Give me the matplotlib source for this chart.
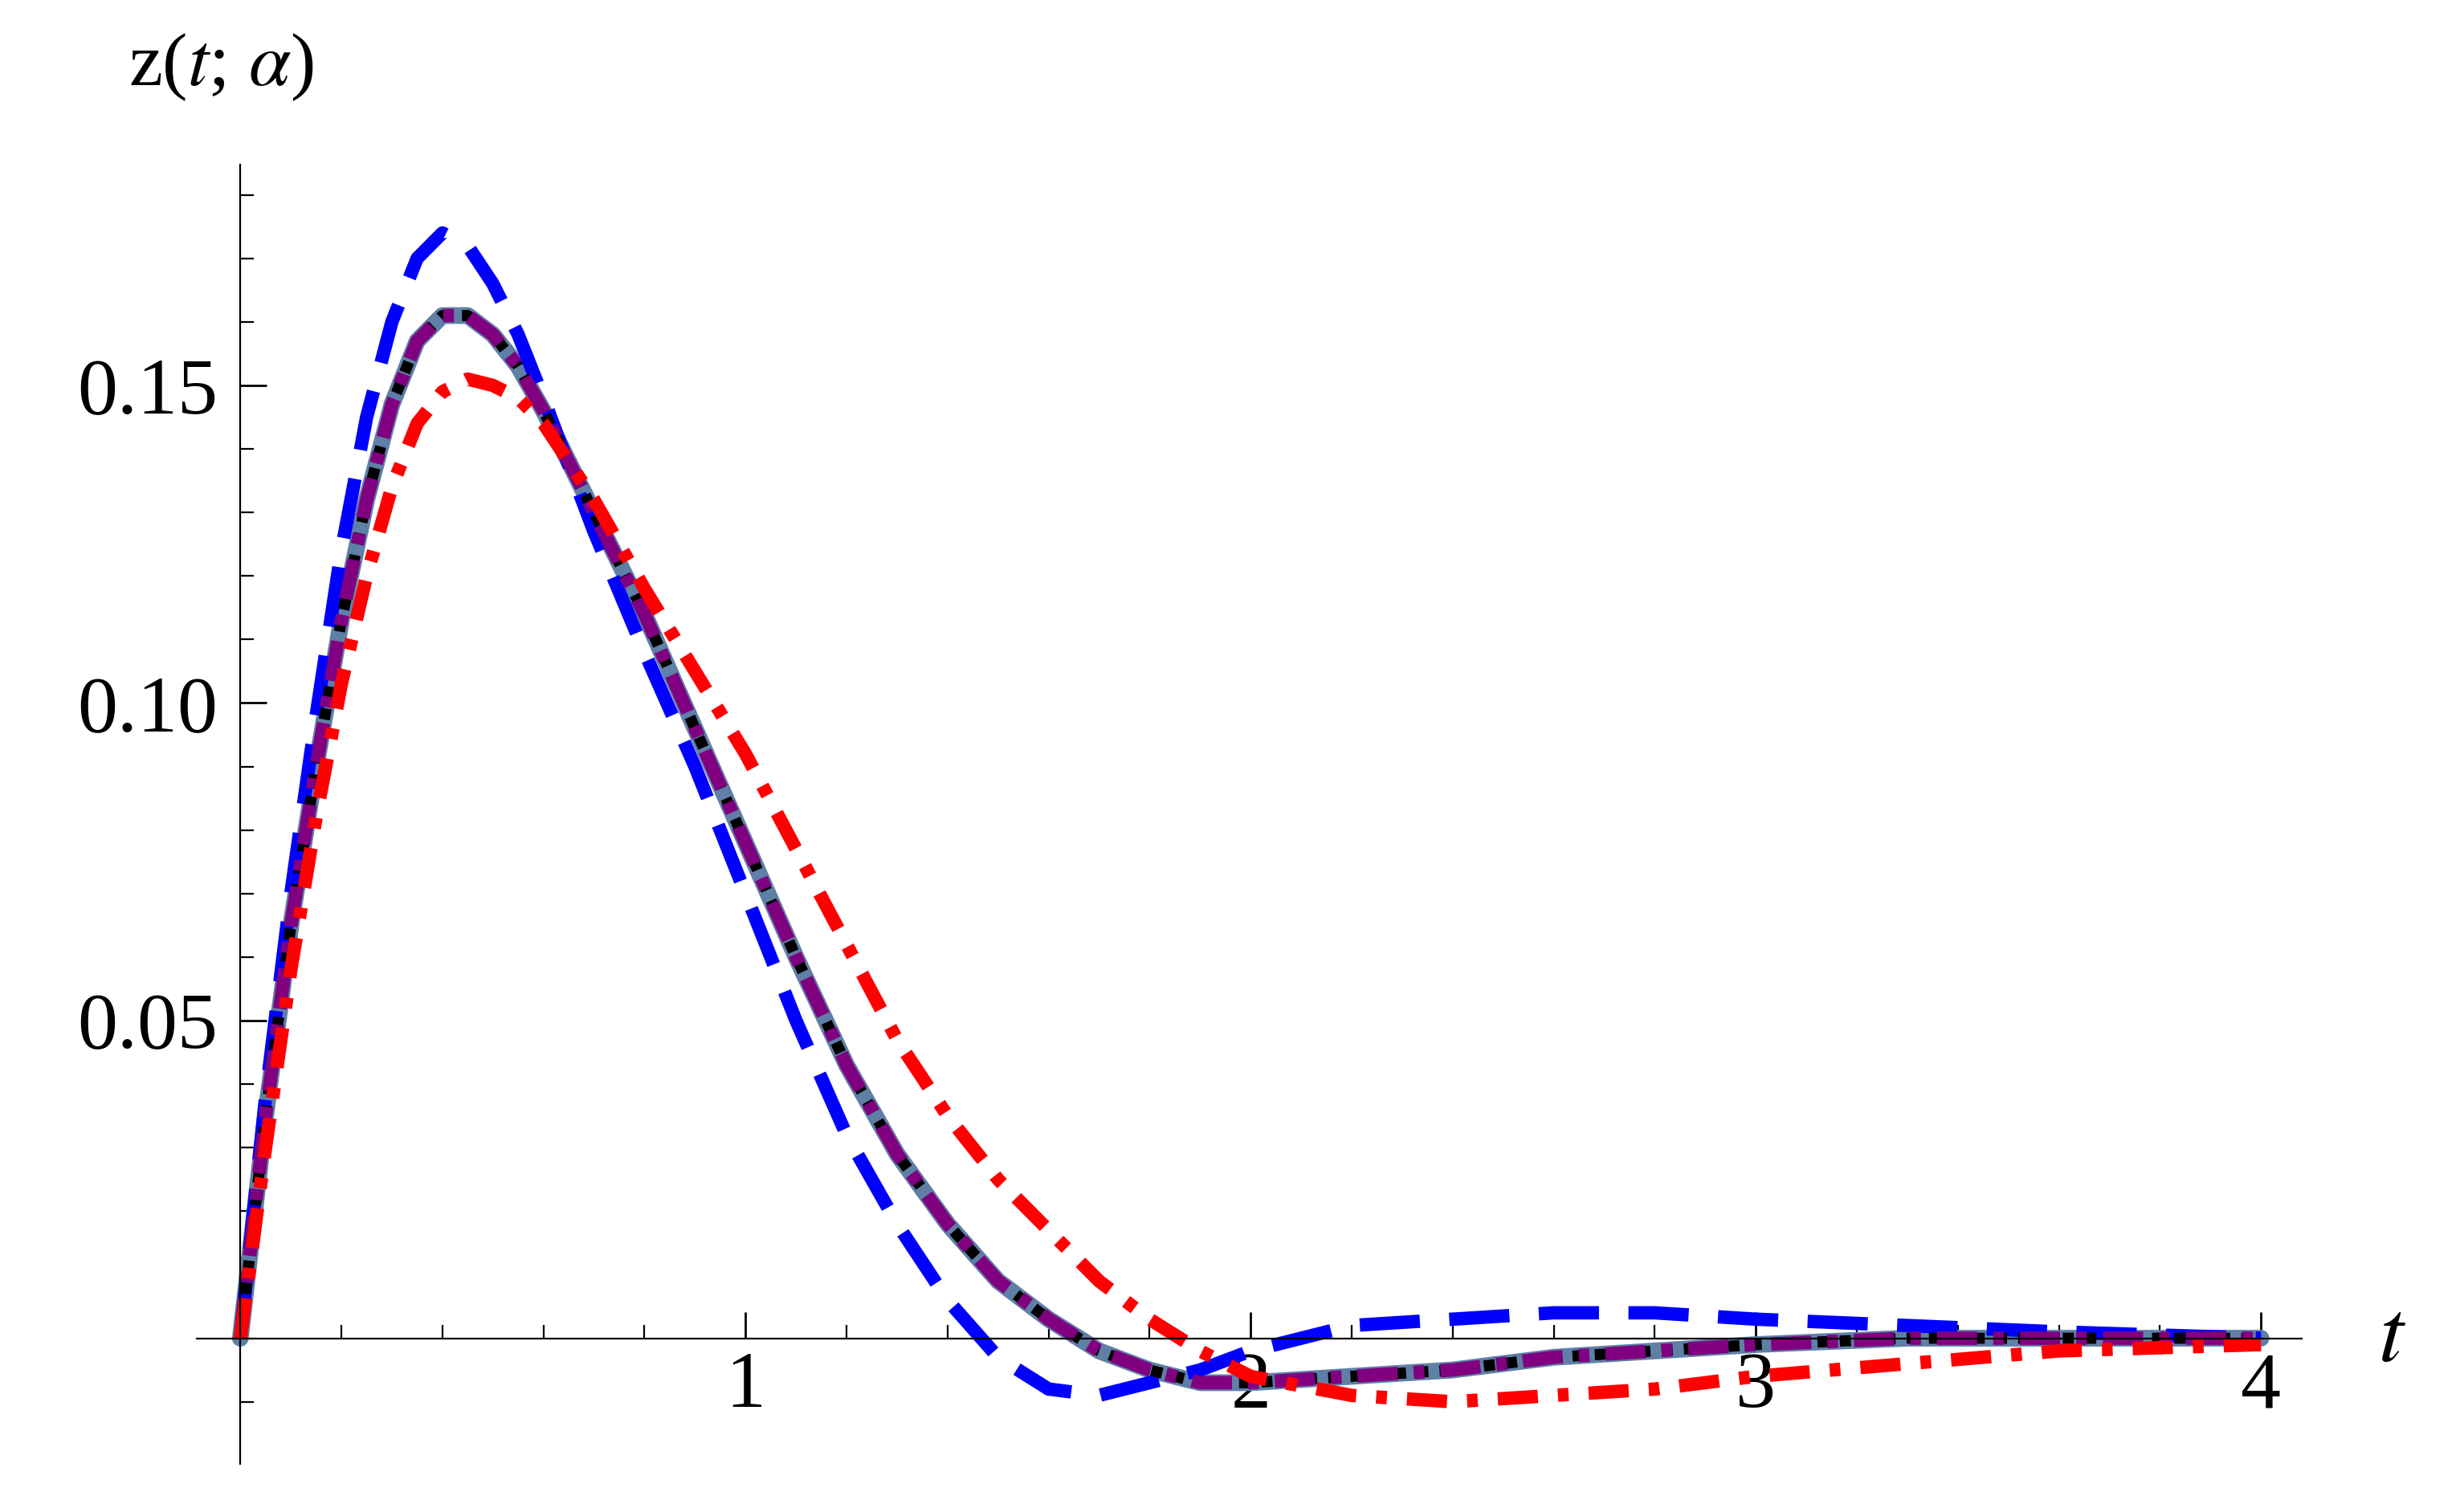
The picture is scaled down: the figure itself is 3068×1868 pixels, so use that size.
import matplotlib
matplotlib.use("Agg")
import matplotlib.pyplot as plt
from matplotlib.ticker import MultipleLocator, FixedLocator

t = [0, 0.05, 0.1, 0.15, 0.2, 0.25, 0.3, 0.35, 0.4, 0.45, 0.5, 0.55, 0.6, 0.7, 0.8, 0.9,
     1.0, 1.1, 1.2, 1.3, 1.4, 1.5, 1.6, 1.7, 1.8, 1.9, 2.0, 2.2, 2.4, 2.6, 2.8, 3.0, 3.3,
     3.6, 4.0]

z_blue = [0, 0.038, 0.07, 0.098, 0.124, 0.145, 0.16, 0.170, 0.174, 0.172, 0.166, 0.158,
          0.148, 0.127, 0.108, 0.090, 0.070, 0.050, 0.032, 0.018, 0.006, -0.003, -0.008,
          -0.009, -0.007, -0.005, -0.002, 0.002, 0.003, 0.004, 0.004, 0.003, 0.002, 0.001, 0.0]
z_exact = [0, 0.035, 0.065, 0.09, 0.113, 0.132, 0.147, 0.157, 0.161, 0.161, 0.158, 0.153,
           0.146, 0.130, 0.114, 0.096, 0.078, 0.060, 0.043, 0.029, 0.018, 0.009, 0.003,
           -0.002, -0.005, -0.007, -0.007, -0.006, -0.005, -0.003, -0.002, -0.001, 0.0,
           0.0, 0.0]
z_red = [0, 0.03, 0.058, 0.082, 0.103, 0.120, 0.134, 0.144, 0.149, 0.151, 0.150, 0.148,
         0.144, 0.132, 0.118, 0.105, 0.092, 0.077, 0.062, 0.047, 0.035, 0.025, 0.017, 0.009,
         0.003, -0.002, -0.006, -0.009, -0.010, -0.009, -0.008, -0.006, -0.004, -0.002, -0.001]

plt.rcParams["font.family"] = ["Liberation Serif", "DejaVu Serif"]
plt.rcParams["mathtext.fontset"] = "stix"

fig = plt.figure(figsize=(15.34, 9.34), dpi=200)
ax = fig.add_axes([0.0797, 0.024, 0.934 - 0.0797, 0.89 - 0.024])

lw = 6
ax.plot(t, z_exact, color="#5f7fa6", lw=lw + 1.5, solid_capstyle="round")
ax.plot(t, z_blue, color="#0000ff", lw=lw, dashes=(4.5, 2.2))
ax.plot(t, z_exact, color="black", lw=lw - 1, dashes=(1.0, 1.0))
ax.plot(t, z_exact, color="#800080", lw=lw, dashes=(3, 1.2, 0.8, 1.2))
ax.plot(t, z_red, color="#ff0000", lw=lw, dashes=(3, 1.5, 0.8, 1.5))

ax.set_xlim(-0.087, 4.08)
ax.set_ylim(-0.0198, 0.1847)
for s in ("top", "right"):
    ax.spines[s].set_visible(False)
ax.spines["left"].set_position(("data", 0))
ax.spines["bottom"].set_position(("data", 0))
ax.xaxis.set_major_locator(FixedLocator([1, 2, 3, 4]))
ax.xaxis.set_minor_locator(MultipleLocator(0.2))
ax.yaxis.set_major_locator(FixedLocator([0.05, 0.10, 0.15]))
ax.yaxis.set_minor_locator(MultipleLocator(0.01))
ax.set_yticklabels(["0.05", "0.10", "0.15"])
ax.tick_params(which="major", direction="in", length=12, width=1, labelsize=36)
ax.tick_params(which="minor", direction="in", length=6, width=0.8)
ax.tick_params(axis="x", pad=6)
ax.tick_params(axis="y", pad=10)

fig.text(0.052, 0.955, r"z($t$; $\alpha$)", fontsize=34, va="center")
fig.text(0.965, 0.107, r"$t$", fontsize=40, va="center")

fig.savefig("out.png", dpi=200)
